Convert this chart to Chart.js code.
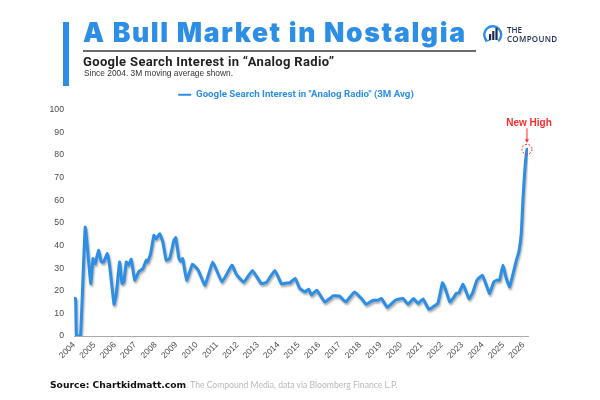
<!DOCTYPE html>
<html>
<head>
<meta charset="utf-8">
<script src="https://cdn.jsdelivr.net/npm/chart.js@4.4.1/dist/chart.umd.min.js"></script>
<style>
  html, body { margin:0; padding:0; background:#fff; }
  #wrap { position:relative; width:600px; height:400px; overflow:hidden; background:#fff; }
  #c { position:absolute; left:0; top:0; }
  .abs { position:absolute; white-space:nowrap; }
  #bar { left:63px; top:22px; width:6px; height:64px; background:#2d8ee6; }
  #title { left:83px; top:19px; font-family:Inter, "Open Sans", sans-serif; font-weight:900; font-size:26.5px; line-height:26px; color:#2d8ee6; }
  #rule { left:83px; top:50px; width:393px; height:2px; background:#6b6b6b; }
  #sub { left:83px; top:55px; font-family:Roboto, "Open Sans", sans-serif; font-weight:700; font-size:13px; line-height:14px; color:#222; }
  #since { left:84px; top:69px; font-family:"Liberation Sans", Arial, sans-serif; font-size:8.4px; line-height:9px; color:#333; }
  #logo { left:482px; top:23px; }
  #the { left:507px; top:26px; font-family:"Open Sans", sans-serif; font-size:8px; line-height:8px; color:#1f2d50; font-weight:600; }
  #comp { left:507px; top:35px; font-family:"Open Sans", sans-serif; font-size:8px; line-height:8px; color:#1f2d50; font-weight:600; letter-spacing:0.3px; }
  #src { left:50px; top:379px; font-size:9.2px; line-height:11px; }
  #src b { font-family:"DejaVu Sans", sans-serif; font-weight:900; color:#111; }
  #src span { font-family:Lato, "Liberation Sans", sans-serif; color:#b8b8b8; font-size:8.6px; }
</style>
</head>
<body>
<div id="wrap">
  <canvas id="c" width="600" height="400"></canvas>
  <div id="bar" class="abs"></div>
  <div id="title" class="abs">A Bull Market in Nostalgia</div>
  <div id="rule" class="abs"></div>
  <div id="sub" class="abs">Google Search Interest in “Analog Radio”</div>
  <div id="since" class="abs">Since 2004. 3M moving average shown.</div>
  <svg id="logo" class="abs" width="22" height="22" viewBox="0 0 22 22">
    <path d="M4 17 A8.5 8.5 0 1 1 17 17.5" fill="none" stroke="#2d8ee6" stroke-width="2.4" stroke-linecap="round"/>
    <path d="M3 14 L4 18 L8 17" fill="none" stroke="#2d8ee6" stroke-width="1.8"/>
    <rect x="7" y="11" width="2.2" height="6" fill="#1f2d50"/>
    <rect x="10.2" y="8" width="2.2" height="9" fill="#1f2d50"/>
    <rect x="13.4" y="5" width="2.2" height="12" fill="#1f2d50"/>
  </svg>
  <div id="the" class="abs">THE</div>
  <div id="comp" class="abs">COMPOUND</div>
  <div id="src" class="abs"><b>Source: Chartkidmatt.com</b><span>. The Compound Media, data via Bloomberg Finance L.P.</span></div>
</div>
<script>
// ---- data (decimal year, 3M avg search interest) ----
const years = [
  2004.00, 2004.08, 2004.12, 2004.32, 2004.55, 2004.82, 2004.93, 2005.04, 2005.20, 2005.34,
  2005.45, 2005.63, 2005.74, 2005.96, 2006.07, 2006.23, 2006.35, 2006.44, 2006.56, 2006.67,
  2006.80, 2006.97, 2007.16, 2007.37, 2007.54, 2007.60, 2007.75, 2007.91, 2008.02, 2008.19,
  2008.35, 2008.51, 2008.68, 2008.89, 2008.98, 2009.13, 2009.22, 2009.32, 2009.51, 2009.80,
  2010.08, 2010.41, 2010.79, 2011.24, 2011.73, 2011.95, 2012.31, 2012.73, 2013.16, 2013.42,
  2013.83, 2014.16, 2014.40, 2014.56, 2014.83, 2015.05, 2015.30, 2015.48, 2015.62, 2015.88,
  2016.27, 2016.70, 2017.00, 2017.30, 2017.73, 2018.07, 2018.30, 2018.64, 2018.88, 2019.05,
  2019.33, 2019.74, 2020.10, 2020.35, 2020.62, 2020.84, 2021.08, 2021.37, 2021.65, 2021.81,
  2022.03, 2022.14, 2022.39, 2022.55, 2022.71, 2022.84, 2023.04, 2023.33, 2023.50, 2023.72,
  2023.98, 2024.18, 2024.34, 2024.54, 2024.70, 2024.83, 2024.99, 2025.16, 2025.32, 2025.49,
  2025.65, 2025.77, 2025.89, 2025.97, 2026.04, 2026.10, 2026.17
];
const interest = [
  16.7, 16.5, 0, 0, 48.1, 23.2, 34.2, 32.0, 37.9, 32.7,
  32.7, 36.4, 31.3, 14.0, 18.8, 32.7, 23.2, 23.9, 32.7, 31.3,
  33.9, 24.7, 28.3, 29.8, 33.5, 32.7, 36.4, 44.5, 43.0, 45.2,
  41.5, 33.5, 34.2, 42.3, 43.5, 34.5, 33.0, 34.2, 24.7, 31.8,
  29.1, 22.5, 32.7, 23.9, 31.3, 27.2, 23.8, 29.0, 23.2, 23.7,
  29.0, 23.0, 23.4, 23.5, 25.4, 21.0, 19.5, 20.7, 18.1, 20.3,
  15.0, 17.8, 17.6, 15.1, 19.5, 16.6, 14.0, 15.8, 15.8, 16.6,
  12.7, 15.9, 16.6, 14.1, 16.6, 14.4, 16.4, 11.8, 13.4, 14.4,
  23.5, 21.7, 15.1, 16.6, 18.8, 19.1, 22.8, 16.6, 18.8, 24.7,
  26.9, 22.5, 18.8, 23.9, 24.7, 24.7, 31.3, 25.4, 21.7, 27.6,
  33.5, 37.1, 45.2, 59.9, 70.2, 77.5, 82.5
];
const seriesLabel = 'Google Search Interest in "Analog Radio" (3M Avg)';
const yTicks = [0, 10, 20, 30, 40, 50, 60, 70, 80, 90, 100];
const xFirstYear = 2004;
const xLastYear = 2026;
const annotationText = 'New High';

const BLUE = '#2d8ee6';

// fit title widths
function fitWidth(id, target) {
  const el = document.getElementById(id);
  const w = el.getBoundingClientRect().width;
  const n = el.textContent.length;
  el.style.letterSpacing = ((target - w) / (n - 1)) + 'px';
}
fitWidth('title', 382);
fitWidth('sub', 251);

const shadowPlugin = {
  id: 'shadow',
  beforeDatasetDraw(chart) {
    const ctx = chart.ctx;
    ctx.save();
    ctx.shadowColor = 'rgba(70,70,70,0.45)';
    ctx.shadowBlur = 2;
    ctx.shadowOffsetX = 1;
    ctx.shadowOffsetY = 2;
  },
  afterDatasetDraw(chart) { chart.ctx.restore(); }
};

// nudge legend slightly left so it sits where the original does
const legendShift = {
  id: 'legendShift',
  afterLayout(chart) {
    const lg = chart.legend;
    if (lg) { lg.left -= 5; lg.right -= 5; }
  }
};

const highPlugin = {
  id: 'newHigh',
  afterDatasetsDraw(chart) {
    const meta = chart.getDatasetMeta(0);
    const pt = meta.data[meta.data.length - 1];
    const ctx = chart.ctx;
    const x = pt.x, y = pt.y;
    ctx.save();
    ctx.strokeStyle = '#ff2a2a';
    ctx.fillStyle = '#ff2a2a';
    ctx.lineWidth = 1;
    ctx.setLineDash([2, 1.5]);
    ctx.beginPath();
    ctx.arc(x, y, 5, 0, Math.PI * 2);
    ctx.stroke();
    ctx.setLineDash([]);
    ctx.beginPath();
    ctx.moveTo(x, y - 21);
    ctx.lineTo(x, y - 9);
    ctx.stroke();
    ctx.beginPath();
    ctx.moveTo(x - 2, y - 10);
    ctx.lineTo(x + 2, y - 10);
    ctx.lineTo(x, y - 6.5);
    ctx.closePath();
    ctx.fill();
    ctx.font = 'bold 10px "Liberation Sans", Arial, sans-serif';
    ctx.textAlign = 'center';
    ctx.textBaseline = 'middle';
    ctx.fillText(annotationText, x + 2, y - 26);
    ctx.restore();
  }
};

new Chart(document.getElementById('c'), {
  type: 'line',
  data: {
    datasets: [{
      label: seriesLabel,
      data: years.map((v, i) => ({ x: v, y: interest[i] })),
      borderColor: BLUE,
      backgroundColor: BLUE,
      borderWidth: 3,
      pointRadius: 0,
      tension: 0.1,
      borderJoinStyle: 'round',
      borderCapStyle: 'round',
      fill: false
    }]
  },
  options: {
    responsive: false,
    animation: false,
    layout: { padding: { top: 80, right: 72, left: 0, bottom: 0 } },
    plugins: {
      tooltip: { enabled: false },
      legend: {
        display: true,
        position: 'top',
        fullSize: false,
        labels: {
          boxWidth: 13,
          boxHeight: 2,
          padding: 10,
          color: BLUE,
          font: { family: 'Roboto, sans-serif', weight: 'bold', size: 9.7 },
          generateLabels(chart) {
            const items = Chart.defaults.plugins.legend.labels.generateLabels(chart);
            items.forEach(it => { it.lineWidth = 0; it.fontColor = BLUE; });
            return items;
          }
        }
      }
    },
    scales: {
      x: {
        type: 'linear',
        min: xFirstYear,
        max: 2026.22,
        afterFit(scale) { scale.height = 64; },
        afterBuildTicks(scale) {
          const t = [];
          for (let yv = xFirstYear; yv <= xLastYear; yv++) t.push({ value: yv });
          scale.ticks = t;
        },
        grid: { display: true, color: 'rgba(0,0,0,0)', drawTicks: false },
        border: { display: true, color: '#a9a9a9', width: 1 },
        ticks: {
          autoSkip: false,
          minRotation: 45,
          maxRotation: 45,
          padding: 4,
          color: '#4a4a4a',
          font: { family: '"Liberation Sans", Arial, sans-serif', size: 8.5 },
          callback: v => String(v)
        }
      },
      y: {
        min: 0,
        max: 100,
        afterFit(scale) { scale.width = 74; },
        afterBuildTicks(scale) { scale.ticks = yTicks.map(v => ({ value: v })); },
        grid: { display: false, drawTicks: false },
        border: { display: false },
        ticks: {
          padding: 10,
          color: '#4a4a4a',
          font: { family: '"Liberation Sans", Arial, sans-serif', size: 8.7 }
        }
      }
    }
  },
  plugins: [shadowPlugin, legendShift, highPlugin]
});
</script>
</body>
</html>
